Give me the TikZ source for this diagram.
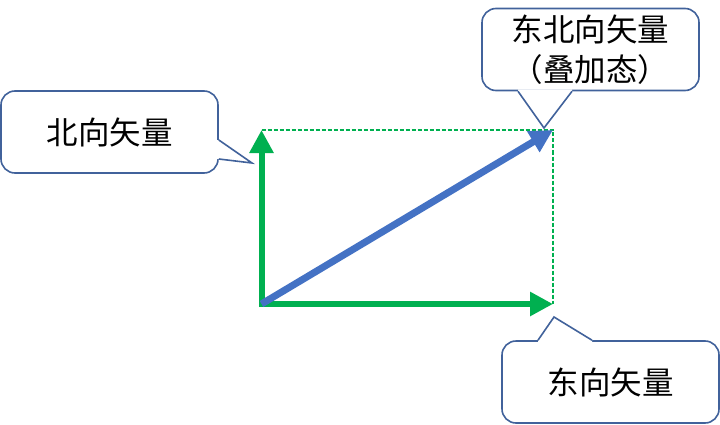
\documentclass[tikz,border=0pt]{standalone}
\usepackage{fontspec}
\newfontfamily\cjk{Noto Sans CJK SC}
\usetikzlibrary{arrows.meta,calc}
\definecolor{vecgreen}{HTML}{00B050}
\definecolor{vecblue}{HTML}{4472C4}
\definecolor{boxline}{HTML}{41629B}
\begin{document}
\begin{tikzpicture}[x=1pt,y=1pt]
\useasboundingbox (0,0) rectangle (720,424);
\tikzstyle{bubble} = [rectangle, rounded corners=14pt, draw=boxline, line width=1.6pt, fill=white, minimum width=217pt, minimum height=82pt, align=center, font=\cjk\fontsize{31.5}{40}\selectfont]
\tikzstyle{tail} = [draw=boxline, line width=1.6pt, line join=miter]
\tikzstyle{vec} = [line width=6pt, -{Triangle[width=23pt,length=23pt]}]
% vector end points
\coordinate (o) at (261.5,120);
\coordinate (n) at (261.5,294);
\coordinate (e) at (553,120);
\coordinate (ne) at (553,294);
\draw [vecgreen, dashed, dash pattern=on 4pt off 2pt, line width=1.4pt] (n) -- (ne) -- (e);
\draw [vec, vecgreen, shorten <=-3pt] (o) -- (n);
\draw [vec, vecgreen] (o) -- (e);
\draw [vec, vecblue, line width=7pt] (o) -- (ne);
% callouts
\node (north) [bubble] at (109.5,292) {北向矢量};
\node (northeast) [bubble] at (590.5,374.5) {东北向矢量\\（叠加态）};
\node (east) [bubble] at (610.5,42) {东向矢量};
\coordinate (ntip) at (252,261);
\coordinate (netip) at (544,296);
\coordinate (etip) at (554,107);
\fill [white] ($(north.east)+(-2,-8)$) -- ($(north.east)+(0,-8)$) -- (ntip) -- ($(north.east)+(0,-27)$) -- ($(north.east)+(-2,-27)$) -- cycle;
\draw [tail] ($(north.east)+(0,-8)$) -- (ntip) -- ($(north.east)+(0,-27)$);
\fill [white] ($(northeast.south)+(-72.5,2)$) -- ($(northeast.south)+(-72.5,0)$) -- (netip) -- ($(northeast.south)+(-18.5,0)$) -- ($(northeast.south)+(-18.5,2)$) -- cycle;
\draw [tail] ($(northeast.south)+(-72.5,0)$) -- (netip) -- ($(northeast.south)+(-18.5,0)$);
\fill [white] ($(east.north)+(-72.5,-2)$) -- ($(east.north)+(-72.5,0)$) -- (etip) -- ($(east.north)+(-18.5,0)$) -- ($(east.north)+(-18.5,-2)$) -- cycle;
\draw [tail] ($(east.north)+(-72.5,0)$) -- (etip) -- ($(east.north)+(-18.5,0)$);
\end{tikzpicture}
\end{document}
